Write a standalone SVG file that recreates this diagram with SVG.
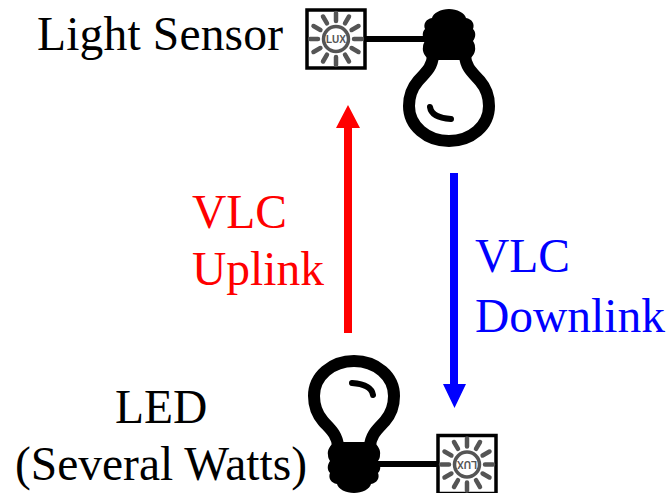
<svg xmlns="http://www.w3.org/2000/svg" width="672" height="493" viewBox="0 0 672 493">
<style>
text{font-family:"Liberation Serif","Times New Roman",serif;font-size:47.500px}
.k{fill:#000}
.red{fill:#f00}
.blue{fill:#00f}
.glass{fill:none;stroke:#000;stroke-width:12;stroke-linejoin:round}
.hl{fill:none;stroke:#000;stroke-width:6;stroke-linecap:round}
.ray{stroke:#555;stroke-width:4.500;stroke-linecap:round}
.lux{font-family:"Liberation Sans",Arial,sans-serif;font-size:10px;font-weight:700;fill:#555;text-anchor:middle}
</style>
<defs>
<g id="bulb">
<path class="k" d="M-20 60C-24 56-27 52-26 47C-26 44-25 43-24 41C-27 37-27 32-24 29C-26 24-23 19-17 18C-16 13-8 9 0 9C8 9 16 13 17 18C23 19 26 24 24 29C27 32 27 37 24 41C25 43 26 44 26 47C27 52 24 56 20 60Z"/>
<path class="glass" d="M-16 56C-17 68-24 73-31 81C-37 88-40 97-40 106C-40 126-22 141 0 141C22 141 40 126 40 106C40 97 37 88 31 81C24 73 17 68 16 56"/>
<path class="hl" d="M-19 107C-18 114-12 118 2 119"/>
</g>
<g id="sensor">
<rect x="-29" y="-29" width="58" height="58" fill="#fff" stroke="#000" stroke-width="3.500"/>
<circle r="12.500" fill="none" stroke="#555" stroke-width="3.500"/>
<g class="ray">
<path d="M0-18V-26M0 18V26M-18 0H-26M18 0H26M9-15.600L13-22.500M-9-15.600L-13-22.500M9 15.600L13 22.500M-9 15.600L-13 22.500M15.600-9L22.500-13M-15.600-9L-22.500-13M15.600 9L22.500 13M-15.600 9L-22.500 13"/>
</g>
<text class="lux" y="3.500">LUX</text>
</g>
</defs>
<g id="connectors">
<path d="M366 39H426M378 464H438" stroke="#000" stroke-width="6" fill="none"/>
<path class="red" d="M344 333V128H336L348 105L360 128H352V333Z"/>
<path class="blue" d="M450 173V384H443L454.500 408L466 384H458V173Z"/>
</g>
<g id="top-bulb"><use href="#bulb" transform="translate(449 0)"/></g>
<g id="light-sensor"><use href="#sensor" transform="translate(336 39)"/></g>
<g id="led"><use href="#bulb" transform="translate(354 502) rotate(180)"/></g>
<g id="bottom-sensor"><use href="#sensor" transform="translate(467 464.500) rotate(180)"/></g>
<g id="labels">
<text x="37" y="50" textLength="246">Light Sensor</text>
<text class="red" x="192" y="228">VLC</text>
<text class="red" x="192" y="285">Uplink</text>
<text class="blue" x="475" y="272">VLC</text>
<text class="blue" x="475" y="332">Downlink</text>
<text x="115" y="423">LED</text>
<text x="15" y="480" textLength="292">(Several Watts)</text>
</g>
</svg>
